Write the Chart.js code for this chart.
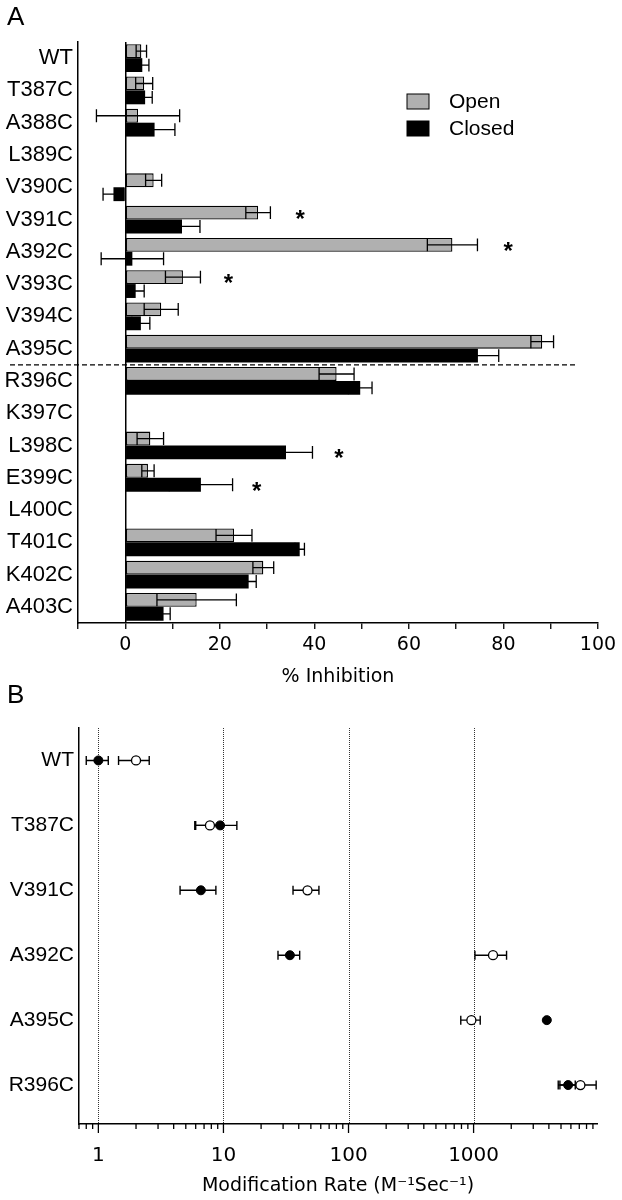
<!DOCTYPE html>
<html lang="en">
<head>
    <meta charset="UTF-8">
    <title>Cysteine mutants: inhibition and modification rate</title>
    <script src="https://cdn.jsdelivr.net/npm/chart.js"></script>
    <style>
        body {
            margin: 0;
            background: #fff;
        }

        .wrap {
            position: relative;
            width: 622px;
            height: 1200px;
        }

        canvas {
            position: absolute;
            left: 0;
        }

        #chartA { top: 0; }
        #chartB { top: 680px; }
    </style>
</head>
<body>
    <div class="wrap">
        <canvas id="chartA" width="622" height="700"></canvas>
        <canvas id="chartB" width="622" height="520"></canvas>
    </div>

    <script>
        // Panel A: % inhibition, open vs closed
        const mutantsA = ['WT', 'T387C', 'A388C', 'L389C', 'V390C', 'V391C', 'A392C', 'V393C', 'V394C',
                          'A395C', 'R396C', 'K397C', 'L398C', 'E399C', 'L400C', 'T401C', 'K402C', 'A403C'];
        const openMean   = [3.4, 4.0, 2.7, null, 6.0, 28.1, 69.2, 12.2, 7.6, 88.2, 44.7, null, 5.3, 4.8, null, 23.0, 29.2, 15.1];
        const openErr    = [1.1, 1.8, 8.8, null, 1.7, 2.6, 5.3, 3.7, 3.6, 2.4, 3.7, null, 2.8, 1.3, null, 3.8, 2.2, 8.4];
        const closedMean = [3.6, 4.2, 6.2, null, -2.5, 12.0, 1.5, 2.2, 3.3, 74.6, 49.7, null, 34.0, 16.0, null, 36.9, 26.1, 8.1];
        const closedErr  = [1.4, 1.5, 4.3, null, 2.2, 3.8, 6.6, 1.8, 1.9, 4.4, 2.5, null, 5.6, 6.7, null, 1.0, 1.6, 1.4];
        // significance stars: mutant, series, x position (% units)
        const starsA = [['V391C', 'Open', 37], ['A392C', 'Open', 81], ['V393C', 'Open', 21.8],
                        ['L398C', 'Closed', 45.2], ['E399C', 'Closed', 27.8]];
        const dividerAfter = 'A395C';
        const dividerEnd = 95.5;

        // Panel B: modification rate (M-1 s-1), log axis
        const mutantsB = ['WT', 'T387C', 'V391C', 'A392C', 'A395C', 'R396C'];
        const closedRate    = [1.0, 9.4, 6.6, 34, 3850, 5700];
        const closedRateErr = [0.2, 3.4, 2.1, 6.7, 0, 800];
        const openRate      = [2.0, 7.8, 47, 1430, 960, 7150];
        const openRateErr   = [0.55, 1.9, 11, 405, 170, 2400];
        const rateTicks = [1, 10, 100, 1000];

        const SANS = "'Liberation Sans', Arial, sans-serif";
        const WIDE = "'DejaVu Sans', Verdana, sans-serif";
        Chart.defaults.color = '#000';

        function panelLetter(letter, baseline) {
            return {
                id: 'letter' + letter,
                afterDraw(chart) {
                    const ctx = chart.ctx;
                    ctx.save();
                    ctx.fillStyle = '#000';
                    ctx.font = '26px ' + SANS;
                    ctx.textBaseline = 'alphabetic';
                    ctx.fillText(letter, 7, baseline);
                    ctx.restore();
                }
            };
        }

        const errorBarsA = {
            id: 'errorBarsA',
            afterDatasetsDraw(chart) {
                const { ctx, scales: { x } } = chart;
                ctx.save();
                ctx.strokeStyle = '#000';
                ctx.lineWidth = 1.3;
                chart.data.datasets.forEach((ds, di) => {
                    const meta = chart.getDatasetMeta(di);
                    ds.data.forEach((v, i) => {
                        const e = ds.errors[i];
                        if (v === null || !e) return;
                        const bar = meta.data[i];
                        const y = bar.y, h = bar.height / 2 - 0.5;
                        const x1 = x.getPixelForValue(v - e), x2 = x.getPixelForValue(v + e);
                        ctx.beginPath();
                        ctx.moveTo(x1, y); ctx.lineTo(x2, y);
                        ctx.moveTo(x1, y - h); ctx.lineTo(x1, y + h);
                        ctx.moveTo(x2, y - h); ctx.lineTo(x2, y + h);
                        ctx.stroke();
                    });
                });
                ctx.restore();
            }
        };

        const starsPlugin = {
            id: 'starsA',
            afterDatasetsDraw(chart) {
                const { ctx, scales: { x } } = chart;
                ctx.save();
                ctx.fillStyle = '#000';
                ctx.font = 'bold 24px ' + SANS;
                ctx.textAlign = 'center';
                ctx.textBaseline = 'alphabetic';
                starsA.forEach(([name, series, xv]) => {
                    const di = chart.data.datasets.findIndex(d => d.label === series);
                    const bar = chart.getDatasetMeta(di).data[mutantsA.indexOf(name)];
                    ctx.fillText('*', x.getPixelForValue(xv), bar.y + 0.58 * 24);
                });
                ctx.restore();
            }
        };

        const dividerPlugin = {
            id: 'dividerA',
            afterDatasetsDraw(chart) {
                const { ctx, scales: { x, y } } = chart;
                const py = y.getPixelForValue(mutantsA.indexOf(dividerAfter) + 0.5);
                ctx.save();
                ctx.strokeStyle = '#000';
                ctx.lineWidth = 1.3;
                ctx.setLineDash([5, 3]);
                ctx.beginPath();
                ctx.moveTo(10, py);
                ctx.lineTo(x.getPixelForValue(dividerEnd), py);
                ctx.stroke();
                ctx.restore();
            }
        };

        const legendA = {
            id: 'legendA',
            afterDraw(chart) {
                const ctx = chart.ctx;
                ctx.save();
                chart.data.datasets.forEach((ds, i) => {
                    const bx = 407, by = 94 + i * 27;
                    ctx.fillStyle = ds.backgroundColor;
                    ctx.fillRect(bx, by, 22, 15);
                    ctx.strokeStyle = '#000';
                    ctx.lineWidth = 1;
                    ctx.strokeRect(bx, by, 22, 15);
                    ctx.fillStyle = '#000';
                    ctx.font = '21px ' + SANS;
                    ctx.textBaseline = 'middle';
                    ctx.fillText(ds.label, 449, by + 8);
                });
                ctx.restore();
            }
        };

        new Chart(document.getElementById('chartA'), {
            type: 'bar',
            data: {
                labels: mutantsA,
                datasets: [
                    { label: 'Open', data: openMean, errors: openErr, backgroundColor: '#b0b0b0',
                      borderColor: '#000', borderWidth: 1.3, borderSkipped: false },
                    { label: 'Closed', data: closedMean, errors: closedErr, backgroundColor: '#000',
                      borderColor: '#000', borderWidth: 0 }
                ]
            },
            options: {
                indexAxis: 'y',
                responsive: false,
                animation: false,
                categoryPercentage: 0.86,
                barPercentage: 1.0,
                layout: { padding: { top: 42, right: 24, left: 0, bottom: 0 } },
                plugins: { legend: { display: false }, tooltip: { enabled: false } },
                scales: {
                    x: {
                        min: -10,
                        max: 100,
                        ticks: {
                            stepSize: 10, padding: 5, autoSkip: false, maxRotation: 0,
                            font: { family: WIDE, size: 19 },
                            callback: v => (v >= 0 && v % 20 === 0) ? v : ''
                        },
                        grid: {
                            drawOnChartArea: true,
                            color: c => (c.tick && c.tick.value === 0) ? '#000' : 'rgba(0,0,0,0)',
                            lineWidth: 1.5,
                            tickColor: '#000',
                            tickLength: 6,
                            tickWidth: 1.3
                        },
                        border: { display: true, color: '#000', width: 1.5 },
                        title: {
                            display: true, text: '% Inhibition',
                            font: { family: WIDE, size: 19 },
                            padding: { top: 0, bottom: 12 }
                        },
                        afterFit: s => { s.height = 77; }
                    },
                    y: {
                        ticks: { padding: 5, autoSkip: false, font: { family: SANS, size: 22 } },
                        grid: { display: false, drawTicks: false },
                        border: { display: true, color: '#000', width: 1.5 },
                        afterFit: s => { s.width = 78; }
                    }
                }
            },
            plugins: [errorBarsA, starsPlugin, dividerPlugin, legendA, panelLetter('A', 25)]
        });

        const gridB = {
            id: 'gridB',
            beforeDatasetsDraw(chart) {
                const { ctx, scales: { x }, chartArea } = chart;
                ctx.save();
                ctx.strokeStyle = '#333';
                ctx.lineWidth = 1;
                ctx.setLineDash([1, 1]);
                rateTicks.forEach(v => {
                    const px = Math.round(x.getPixelForValue(v)) + 0.5;
                    ctx.beginPath();
                    ctx.moveTo(px, chartArea.top);
                    ctx.lineTo(px, chartArea.bottom);
                    ctx.stroke();
                });
                ctx.restore();
            }
        };

        const errorBarsB = {
            id: 'errorBarsB',
            beforeDatasetsDraw(chart) {
                const { ctx, scales: { x } } = chart;
                ctx.save();
                ctx.strokeStyle = '#000';
                ctx.lineWidth = 1.4;
                chart.data.datasets.forEach((ds, di) => {
                    const meta = chart.getDatasetMeta(di);
                    ds.data.forEach((p, i) => {
                        const e = ds.errors[i];
                        if (!e) return;
                        const y = meta.data[i].y, h = 4.5;
                        const x1 = x.getPixelForValue(p.x - e), x2 = x.getPixelForValue(p.x + e);
                        ctx.beginPath();
                        ctx.moveTo(x1, y); ctx.lineTo(x2, y);
                        ctx.moveTo(x1, y - h); ctx.lineTo(x1, y + h);
                        ctx.moveTo(x2, y - h); ctx.lineTo(x2, y + h);
                        ctx.stroke();
                    });
                });
                ctx.restore();
            }
        };

        const logTicksB = {
            id: 'logTicksB',
            afterDraw(chart) {
                const { ctx, scales: { x }, chartArea } = chart;
                ctx.save();
                ctx.strokeStyle = '#000';
                ctx.lineWidth = 1.3;
                for (let d = 0.1; d < 10000; d *= 10) {
                    for (let m = 1; m < 10; m++) {
                        const v = +(d * m).toPrecision(3);
                        if (v < x.min || v > x.max) continue;
                        const px = x.getPixelForValue(v);
                        const len = m === 1 ? 9 : 5;
                        ctx.beginPath();
                        ctx.moveTo(px, chartArea.bottom);
                        ctx.lineTo(px, chartArea.bottom + len);
                        ctx.stroke();
                    }
                }
                ctx.restore();
            }
        };

        new Chart(document.getElementById('chartB'), {
            type: 'scatter',
            data: {
                datasets: [
                    { label: 'Closed', data: closedRate.map((v, i) => ({ x: v, y: i })), errors: closedRateErr,
                      pointRadius: 4.5, pointBackgroundColor: '#000', pointBorderColor: '#000', pointBorderWidth: 1 },
                    { label: 'Open', data: openRate.map((v, i) => ({ x: v, y: i })), errors: openRateErr,
                      pointRadius: 4.5, pointBackgroundColor: '#fff', pointBorderColor: '#000', pointBorderWidth: 1.3 }
                ]
            },
            options: {
                responsive: false,
                animation: false,
                layout: { padding: { top: 48, right: 25, left: 0, bottom: 0 } },
                plugins: { legend: { display: false }, tooltip: { enabled: false } },
                scales: {
                    x: {
                        type: 'logarithmic',
                        min: 0.72,
                        max: 9700,
                        afterBuildTicks: s => { s.ticks = rateTicks.map(v => ({ value: v })); },
                        ticks: {
                            padding: 20, autoSkip: false, maxRotation: 0,
                            font: { family: WIDE, size: 20 },
                            callback: v => String(v)
                        },
                        grid: { display: false, drawTicks: false },
                        border: { display: true, color: '#000', width: 1.5 },
                        title: {
                            display: true, text: 'Modification Rate (M\u207B\u00B9Sec\u207B\u00B9)',
                            font: { family: WIDE, size: 19 },
                            padding: { top: 0, bottom: 3 }
                        },
                        afterFit: s => { s.height = 76; }
                    },
                    y: {
                        type: 'linear',
                        min: -0.5,
                        max: 5.6,
                        reverse: true,
                        afterBuildTicks: s => { s.ticks = mutantsB.map((_, i) => ({ value: i })); },
                        ticks: {
                            padding: 5, autoSkip: false,
                            font: { family: SANS, size: 21 },
                            callback: v => mutantsB[v]
                        },
                        grid: { display: false, drawTicks: false },
                        border: { display: true, color: '#000', width: 1.5 },
                        afterFit: s => { s.width = 79; }
                    }
                }
            },
            plugins: [gridB, errorBarsB, logTicksB, panelLetter('B', 23)]
        });
    </script>
</body>
</html>
